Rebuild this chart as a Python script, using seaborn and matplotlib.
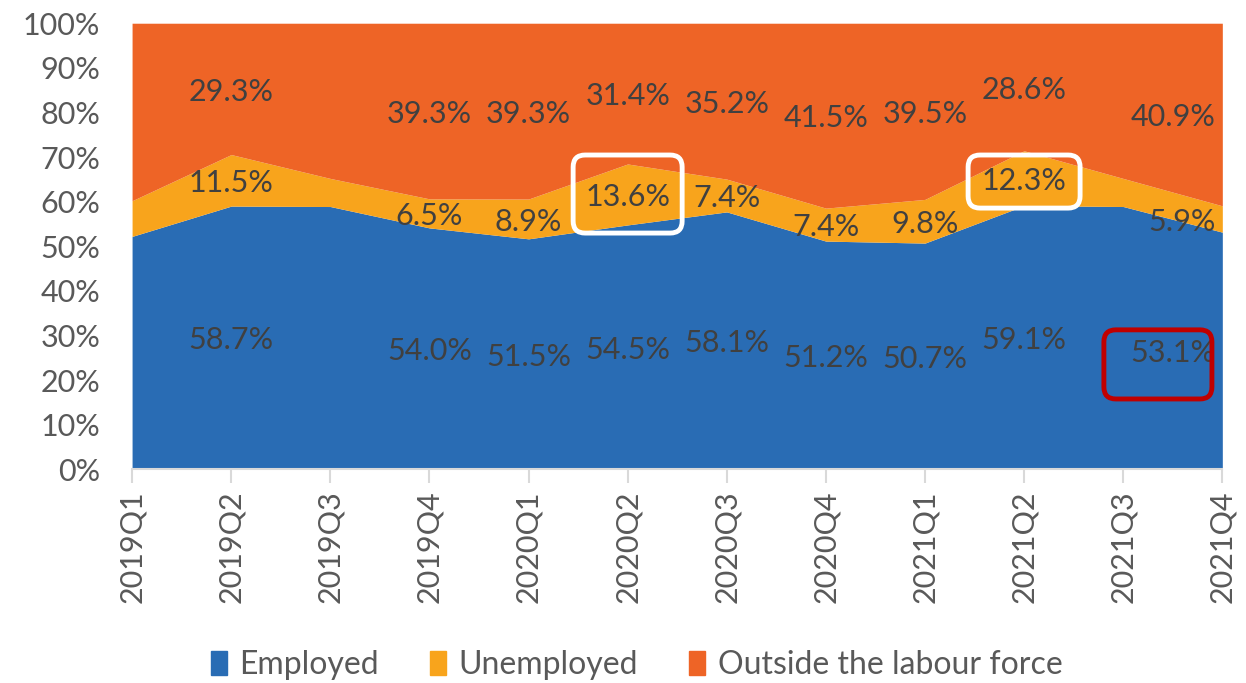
import numpy as np
import pandas as pd
import matplotlib.pyplot as plt
import seaborn as sns
from matplotlib.patches import FancyBboxPatch, Patch
from matplotlib.transforms import IdentityTransform
from matplotlib.ticker import PercentFormatter

quarters = ['2019Q1', '2019Q2', '2019Q3', '2019Q4', '2020Q1', '2020Q2',
            '2020Q3', '2020Q4', '2021Q1', '2021Q2', '2021Q3', '2021Q4']
employed = [52.2, 58.7, 58.9, 54.0, 51.5, 54.5, 58.1, 51.2, 50.7, 59.1, 58.9, 53.1]
unemployed = [8.0, 11.5, 6.3, 6.5, 8.9, 13.6, 7.4, 7.4, 9.8, 12.3, 6.3, 5.9]
outside = [39.8, 29.3, 34.8, 39.3, 39.3, 31.4, 35.2, 41.5, 39.5, 28.6, 34.8, 40.9]
# quarters that carry data labels in the original
labelled = [False, True, False, True, True, True, True, True, True, True, False, True]

series = ['Employed', 'Unemployed', 'Outside the labour force']
colors = ['#296cb4', '#f8a41c', '#ee6426']

df = pd.DataFrame({'Employed': employed, 'Unemployed': unemployed,
                   'Outside the labour force': outside}, index=quarters)
# 100% stacked, like excel
shares = df.div(df.sum(axis=1), axis=0) * 100
cum = shares.cumsum(axis=1)

sns.set_theme(style='white')
plt.rcParams['font.family'] = ['Lato', 'DejaVu Sans']

fig, ax = plt.subplots(figsize=(12.46, 6.83), dpi=100)
fig.subplots_adjust(left=0.106, right=0.981, bottom=0.313, top=0.966)

x = np.arange(len(quarters))
ax.stackplot(x, [shares[s].values for s in series], colors=colors, linewidth=0)

ax.set_xlim(0, len(quarters) - 1)
ax.set_ylim(0, 100)
ax.yaxis.set_major_locator(plt.MultipleLocator(10))
ax.yaxis.set_major_formatter(PercentFormatter(decimals=0))
ax.set_xticks(x)
ax.set_xticklabels(quarters, rotation=90)
ax.tick_params(axis='y', length=0, labelsize=22, labelcolor='#595959', pad=23)
ax.tick_params(axis='x', length=10, width=1.5, color='#d9d9d9', labelsize=22,
               labelcolor='#595959', pad=5, bottom=True, direction='out')
sns.despine(ax=ax, left=True, top=True, right=True)
ax.spines['bottom'].set_color('#d9d9d9')
ax.spines['bottom'].set_linewidth(1.5)

# data labels in the middle of each band
for i, q in enumerate(quarters):
    if not labelled[i]:
        continue
    prev = 0
    for s in series:
        mid = prev + shares.loc[q, s] / 2
        prev = cum.loc[q, s]
        xi, ha = i, 'center'
        if i == len(quarters) - 1:
            xi, ha = i - 0.07, 'right'
        ax.text(xi, mid - 0.6, f'{df.loc[q, s]:.1f}%', ha=ha, va='center',
                fontsize=22, color='#404040')

# highlight boxes (x index, y centre %, width in categories, height %)
boxes = [(5, 61.7, 1.1, 17.5, 'white'),
         (9, 64.5, 1.13, 11.9, 'white'),
         (10.35, 23.5, 1.09, 15.5, '#c00000')]
for bx, by, bw, bh, ec in boxes:
    x0, y0 = ax.transData.transform((bx - bw / 2, by - bh / 2))
    x1, y1 = ax.transData.transform((bx + bw / 2, by + bh / 2))
    patch = FancyBboxPatch((x0, y0), x1 - x0, y1 - y0,
                           boxstyle='round,pad=0,rounding_size=12',
                           fc='none', ec=ec, lw=3.5, transform=IdentityTransform())
    fig.patches.append(patch)

handles = [Patch(color=c, label=s) for s, c in zip(series, colors)]
fig.legend(handles=handles, loc='center', bbox_to_anchor=(0.511, 0.026), ncol=3,
           frameon=False, fontsize=23, handlelength=0.5, handleheight=0.75,
           handletextpad=0.4, columnspacing=1.6, labelcolor='#595959')

fig.savefig('out.png', dpi=100)
